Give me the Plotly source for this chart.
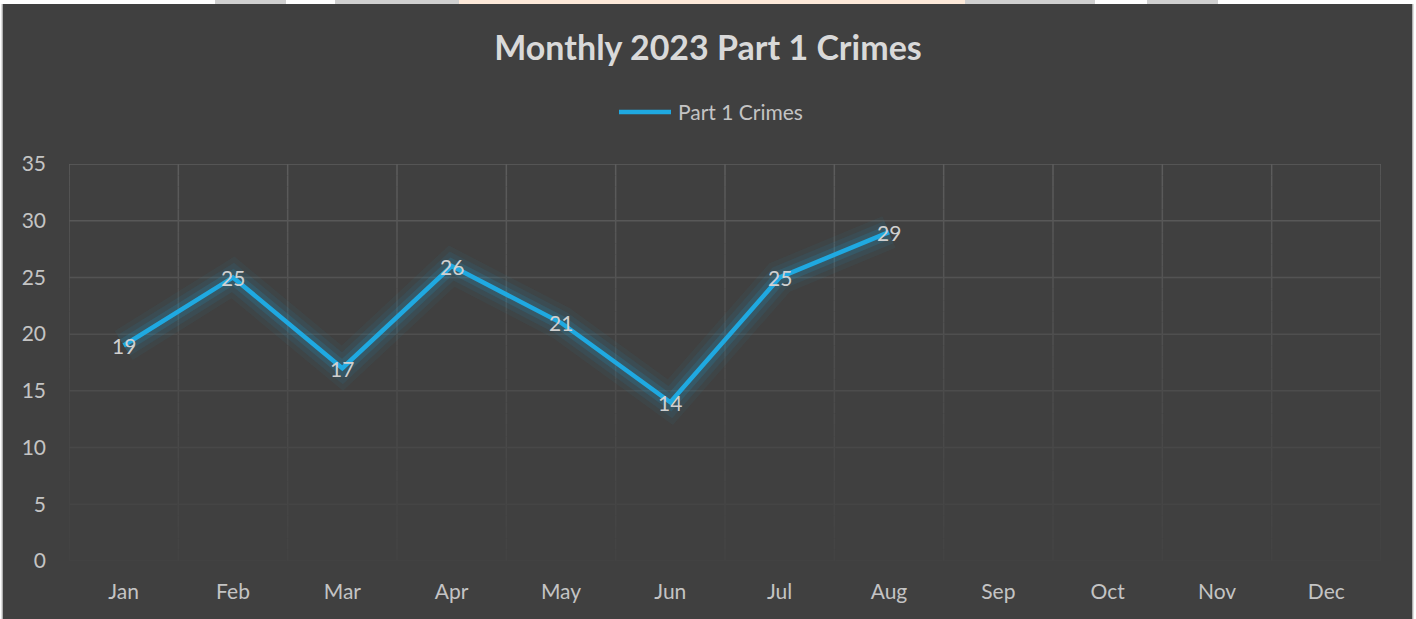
import plotly.graph_objects as go

months = ["Jan", "Feb", "Mar", "Apr", "May", "Jun", "Jul", "Aug", "Sep", "Oct", "Nov", "Dec"]
crimes = [19, 25, 17, 26, 21, 14, 25, 29]
y_ticks = [0, 5, 10, 15, 20, 25, 30, 35]
series_name = "Part 1 Crimes"
title_text = "Monthly 2023 Part 1 Crimes"

W, H = 1416, 619
ML, MR, MT, MB = 69, 35, 164, 58
PW, PH = W - ML - MR, H - MT - MB

BG = (64, 64, 64)
GRID = (92, 92, 92)
LINE = "#1fa9e1"
FONT = "Lato"
TXT = "#c4c4c4"


def px(xpix):
    return (xpix - ML) / PW


def py(ypix):
    return (H - MB - ypix) / PH


def grid_color(frac):
    f = 0.12 + 0.88 * frac ** 1.3
    c = [round(BG[i] + (GRID[i] - BG[i]) * f) for i in range(3)]
    return f"rgb({c[0]},{c[1]},{c[2]})"


fig = go.Figure()
x_used = months[:len(crimes)]
for w, a in [(34, 0.05), (24, 0.08), (14, 0.14)]:
    fig.add_trace(go.Scatter(x=x_used, y=crimes, mode="lines", showlegend=False, hoverinfo="skip",
                             line=dict(color=f"rgba(31,169,225,{a})", width=w)))
fig.add_trace(go.Scatter(x=x_used, y=crimes, mode="lines", name=series_name, showlegend=False,
                         line=dict(color=LINE, width=4.5)))

shapes = []
ymax = y_ticks[-1]
for t in y_ticks:
    shapes.append(dict(type="line", xref="x", yref="y", x0=-0.5, x1=len(months) - 0.5, y0=t, y1=t,
                       line=dict(color=grid_color(t / ymax), width=1.5), layer="below"))
nseg = 35
for k in range(len(months) + 1):
    xk = k - 0.5
    for s in range(nseg):
        y0 = ymax * s / nseg
        y1 = ymax * (s + 1) / nseg
        shapes.append(dict(type="line", xref="x", yref="y", x0=xk, x1=xk, y0=y0, y1=y1,
                           line=dict(color=grid_color((y0 + y1) / 2 / ymax), width=1.5), layer="below"))

# manual legend
shapes.append(dict(type="line", xref="paper", yref="paper", x0=px(619), x1=px(671), y0=py(112), y1=py(112),
                   line=dict(color=LINE, width=4.5), layer="above"))

# surrounding screenshot frame
shapes.append(dict(type="rect", xref="paper", yref="paper", x0=px(-10), x1=px(W + 10), y0=py(4), y1=py(-10),
                   fillcolor="white", line=dict(width=0), layer="above"))
for a, b, col in [(215, 286, "#d0d0d0"), (335, 459, "#d0d0d0"), (459, 965, "#fde9d9"),
                  (965, 1095, "#d0d0d0"), (1147, 1218, "#d0d0d0")]:
    shapes.append(dict(type="rect", xref="paper", yref="paper", x0=px(a), x1=px(b), y0=py(4), y1=py(0),
                       fillcolor=col, line=dict(width=0), layer="above"))
shapes.append(dict(type="rect", xref="paper", yref="paper", x0=px(-10), x1=px(2), y0=py(W), y1=py(4),
                   fillcolor="white", line=dict(width=0), layer="above"))
shapes.append(dict(type="rect", xref="paper", yref="paper", x0=px(1413), x1=px(W + 10), y0=py(W), y1=py(4),
                   fillcolor="white", line=dict(width=0), layer="above"))
shapes.append(dict(type="line", xref="paper", yref="paper", x0=px(2), x1=px(2), y0=py(W), y1=py(4),
                   line=dict(color="#d4d4d4", width=1.5), layer="above"))
shapes.append(dict(type="line", xref="paper", yref="paper", x0=px(1413), x1=px(1413), y0=py(W), y1=py(4),
                   line=dict(color="#d4d4d4", width=1.5), layer="above"))

annotations = [dict(text=series_name, xref="paper", yref="paper", x=px(676), y=py(112),
                    xanchor="left", yanchor="middle", showarrow=False,
                    font=dict(family=FONT, size=21, color=TXT))]
# data labels
for m, v in zip(x_used, crimes):
    annotations.append(dict(text=str(v), x=m, y=v, xref="x", yref="y", showarrow=False,
                            xanchor="center", yanchor="middle", yshift=0,
                            font=dict(family=FONT, size=21, color="#d0d0d0")))

fig.update_layout(
    width=W, height=H,
    margin=dict(l=ML, r=MR, t=MT, b=MB),
    paper_bgcolor="#404040",
    plot_bgcolor="rgba(0,0,0,0)",
    title=dict(text=f"<b>{title_text}</b>", x=0.5, xanchor="center",
               y=1 - 48 / H, yanchor="middle",
               font=dict(family=FONT, size=34, color="#d9d9d9")),
    showlegend=False,
    xaxis=dict(type="category", categoryorder="array", categoryarray=months,
               tickvals=months, range=[-0.5, len(months) - 0.5], showgrid=False, zeroline=False,
               showline=False, ticks="", tickfont=dict(family=FONT, size=21, color=TXT),
               ticklabelstandoff=16),
    yaxis=dict(range=[0, ymax], tickvals=y_ticks, showgrid=False, zeroline=False, showline=False,
               ticks="", tickfont=dict(family=FONT, size=21, color=TXT),
               ticklabelstandoff=22),
    shapes=shapes,
    annotations=annotations,
)

fig.write_html("out.html", config={"displayModeBar": False},
               post_script="document.body.style.margin='0';document.body.style.overflow='hidden';")
